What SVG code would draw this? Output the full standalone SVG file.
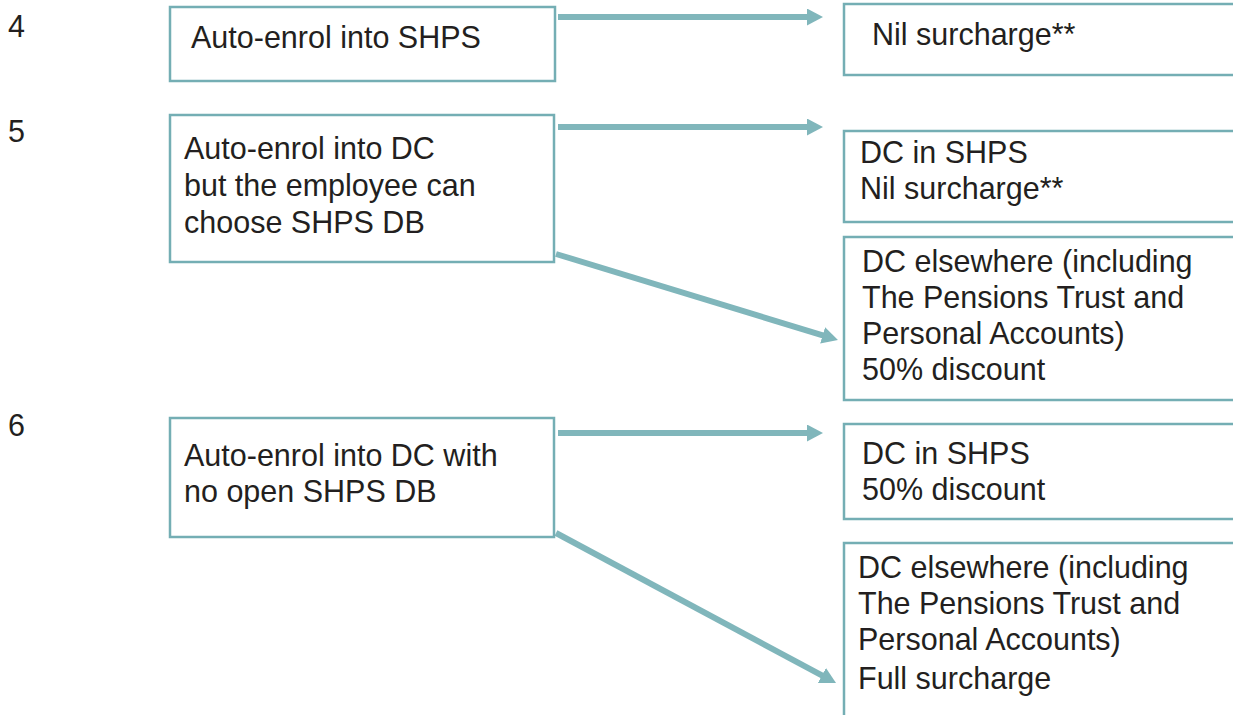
<svg xmlns="http://www.w3.org/2000/svg" width="1233" height="715" viewBox="0 0 1233 715">
<style>
.box{fill:#ffffff;stroke:#74aeb4;stroke-width:2.5}
.t{font-family:"Liberation Sans",Arial,sans-serif;font-size:30.5px;fill:#231f20}
.c{stroke:#80b6bb;stroke-width:6;fill:none;marker-end:url(#ah)}
</style>
<defs>
<marker id="ah" markerUnits="userSpaceOnUse" viewBox="0 0 16 17" markerWidth="16" markerHeight="17" refX="1" refY="8.5" orient="auto">
<path d="M0,0 L16,8.5 L0,17 Z" fill="#80b6bb"/>
</marker>
</defs>
<rect width="1233" height="715" fill="#ffffff"/>
<g id="labels">
<text class="t" x="8" y="37">4</text>
<text class="t" x="8" y="142">5</text>
<text class="t" x="8" y="436">6</text>
</g>
<g id="connectors">
<line class="c" x1="558" y1="17" x2="808" y2="17"/>
<line class="c" x1="558" y1="127" x2="808" y2="127"/>
<line class="c" x1="556" y1="254" x2="823.6" y2="335.6"/>
<line class="c" x1="558" y1="433" x2="808" y2="433"/>
<line class="c" x1="556" y1="533" x2="822.8" y2="675.9"/>
</g>
<g id="n4">
<rect class="box" x="170" y="7" width="385" height="74"/>
<text class="t" x="191" y="48">Auto-enrol into SHPS</text>
</g>
<g id="n5">
<rect class="box" x="170" y="115" width="384" height="147"/>
<text class="t" x="184" y="159">Auto-enrol into DC</text>
<text class="t" x="184" y="196">but the employee can</text>
<text class="t" x="184" y="233">choose SHPS DB</text>
</g>
<g id="n6">
<rect class="box" x="170" y="418" width="384" height="119"/>
<text class="t" x="184" y="466">Auto-enrol into DC with</text>
<text class="t" x="184" y="502">no open SHPS DB</text>
</g>
<g id="r4">
<rect class="box" x="844" y="4" width="400" height="71"/>
<text class="t" x="872" y="45">Nil surcharge**</text>
</g>
<g id="r5a">
<rect class="box" x="844" y="131" width="400" height="91"/>
<text class="t" x="860" y="163">DC in SHPS</text>
<text class="t" x="860" y="199">Nil surcharge**</text>
</g>
<g id="r5b">
<rect class="box" x="844" y="237" width="400" height="163"/>
<text class="t" x="862" y="272">DC elsewhere (including</text>
<text class="t" x="862" y="308">The Pensions Trust and</text>
<text class="t" x="862" y="344">Personal Accounts)</text>
<text class="t" x="862" y="380">50% discount</text>
</g>
<g id="r6a">
<rect class="box" x="844" y="424" width="400" height="95"/>
<text class="t" x="862" y="464">DC in SHPS</text>
<text class="t" x="862" y="500">50% discount</text>
</g>
<g id="r6b">
<rect class="box" x="844" y="543" width="400" height="190"/>
<text class="t" x="858" y="578">DC elsewhere (including</text>
<text class="t" x="858" y="614">The Pensions Trust and</text>
<text class="t" x="858" y="650">Personal Accounts)</text>
<text class="t" x="858" y="689">Full surcharge</text>
</g>
</svg>
